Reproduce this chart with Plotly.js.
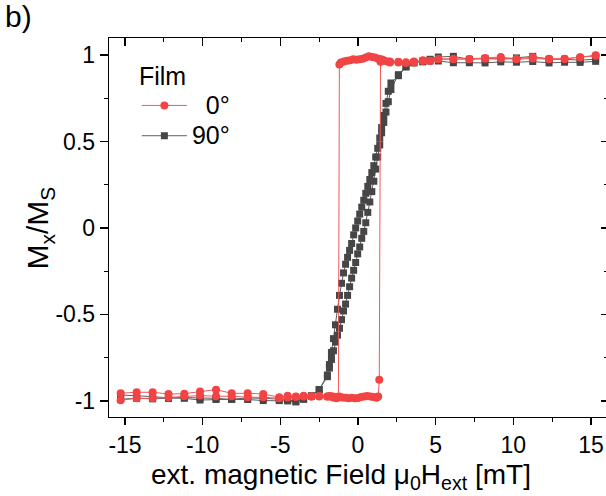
<!DOCTYPE html>
<html>
<head>
<meta charset="utf-8">
<script src="https://cdn.plot.ly/plotly-3.0.1.min.js"></script>
<style>html,body{margin:0;padding:0;overflow:hidden;background:#fff;}</style>
</head>
<body>
<div id="chart"></div>
<script>
// ---- data (field in mT, normalized magnetization) ----
const fieldRedDown = [15.3, 14.3, 13.3, 12.3, 11.25, 10.2, 9.19, 8.18, 7.17, 6.14, 5.17, 4.64, 4.17, 3.6, 3.09, 2.6, 2.06, 1.9, 1.7, 1.5, 1.3, 1.1, 0.9, 0.7, 0.5, 0.3, 0.1, -0.1, -0.3, -0.5, -0.7, -0.9, -1.1, -1.2, -1.26, -1.4, -1.6, -1.8, -1.98, -2.5, -3.0, -3.5, -4.0, -4.53, -5.07, -6.1, -7.1, -8.13, -9.14, -10.17, -11.18, -12.2, -13.22, -14.25, -15.28];
const magRedDown = [0.998, 0.986, 0.977, 0.978, 0.988, 0.977, 0.988, 0.983, 0.977, 0.977, 0.977, 0.967, 0.969, 0.957, 0.954, 0.957, 0.957, 0.962, 0.966, 0.975, 0.978, 0.985, 0.988, 0.992, 0.985, 0.978, 0.975, 0.972, 0.975, 0.97, 0.966, 0.962, 0.957, 0.945, -0.98, -0.985, -0.98, -0.975, -0.975, -0.972, -0.975, -0.97, -0.975, -0.97, -0.979, -0.96, -0.956, -0.956, -0.935, -0.946, -0.958, -0.96, -0.95, -0.95, -0.956];
const fieldRedUp = [-15.28, -14.25, -13.22, -12.2, -11.18, -10.17, -9.14, -8.13, -7.1, -6.1, -5.07, -4.53, -4.0, -3.5, -3.0, -2.5, -1.98, -1.8, -1.6, -1.4, -1.2, -1.0, -0.8, -0.6, -0.4, -0.2, 0.0, 0.2, 0.4, 0.6, 0.8, 1.0, 1.2, 1.3, 1.37, 1.45, 1.63, 2.06, 2.6, 3.09, 3.6, 4.17, 4.64, 5.17, 6.14, 7.17, 8.18, 9.19, 10.2, 11.25, 12.3, 13.3, 14.3, 15.3];
const magRedUp = [-0.996, -0.985, -0.985, -0.979, -0.973, -0.969, -0.973, -0.973, -0.979, -0.979, -0.985, -0.98, -0.978, -0.975, -0.975, -0.975, -0.975, -0.972, -0.975, -0.978, -0.975, -0.98, -0.982, -0.985, -0.982, -0.985, -0.983, -0.978, -0.975, -0.972, -0.975, -0.978, -0.982, -0.975, -0.877, 0.96, 0.969, 0.962, 0.96, 0.958, 0.962, 0.965, 0.965, 0.975, 0.975, 0.975, 0.978, 0.98, 0.975, 0.98, 0.975, 0.978, 0.985, 0.995];

const fieldGreyDown = [15.3, 14.3, 13.3, 12.3, 11.25, 10.2, 9.19, 8.18, 7.17, 6.14, 5.17, 4.64, 4.17, 3.6, 3.09, 2.6, 2.12, 1.95, 1.80, 1.66, 1.52, 1.40, 1.27, 1.14, 1.02, 0.89, 0.76, 0.63, 0.50, 0.37, 0.24, 0.11, -0.02, -0.15, -0.28, -0.41, -0.54, -0.67, -0.80, -0.93, -1.06, -1.19, -1.32, -1.45, -1.58, -1.71, -1.84, -1.97, -2.5, -3.0, -3.5, -4.0, -4.53, -5.07, -6.1, -7.1, -8.13, -9.14, -10.17, -11.18, -12.2, -13.22, -14.25, -15.28];
const magGreyDown = [0.975, 0.97, 0.975, 0.975, 0.992, 0.983, 0.975, 0.98, 0.975, 0.992, 0.988, 0.975, 0.965, 0.955, 0.93, 0.88, 0.838, 0.79, 0.72, 0.65, 0.58, 0.52, 0.46, 0.41, 0.36, 0.32, 0.28, 0.24, 0.20, 0.16, 0.12, 0.08, 0.04, 0.00, -0.04, -0.09, -0.13, -0.17, -0.21, -0.26, -0.32, -0.39, -0.47, -0.56, -0.64, -0.72, -0.79, -0.85, -0.935, -0.97, -0.99, -1.0, -0.995, -0.99, -0.985, -0.983, -0.99, -0.992, -0.995, -0.985, -0.983, -0.975, -0.97, -0.966];
const fieldGreyUp = [-15.28, -14.25, -13.22, -12.2, -11.18, -10.17, -9.14, -8.13, -7.1, -6.1, -5.07, -4.53, -4.0, -3.5, -3.0, -2.5, -1.97, -1.84, -1.71, -1.58, -1.45, -1.32, -1.19, -1.06, -0.93, -0.80, -0.67, -0.54, -0.41, -0.28, -0.15, -0.02, 0.11, 0.24, 0.37, 0.50, 0.63, 0.76, 0.89, 1.02, 1.14, 1.27, 1.40, 1.52, 1.66, 1.80, 1.95, 2.12, 2.6, 3.09, 3.6, 4.17, 4.64, 5.17, 6.14, 7.17, 8.18, 9.19, 10.2, 11.25, 12.3, 13.3, 14.3, 15.3];
const magGreyUp = [-0.99, -0.985, -0.988, -0.985, -0.98, -0.983, -0.985, -0.992, -0.992, -0.998, -0.998, -1.0, -1.006, -0.99, -0.973, -0.935, -0.86, -0.81, -0.76, -0.71, -0.66, -0.62, -0.58, -0.53, -0.48, -0.44, -0.39, -0.34, -0.29, -0.245, -0.20, -0.15, -0.11, -0.06, -0.02, 0.03, 0.09, 0.15, 0.21, 0.27, 0.34, 0.41, 0.48, 0.55, 0.61, 0.67, 0.73, 0.80, 0.886, 0.934, 0.955, 0.96, 0.965, 0.965, 0.955, 0.955, 0.954, 0.96, 0.958, 0.962, 0.954, 0.958, 0.957, 0.963];

const seriesNames = ['\u20070°', '90°'];
const legendTitle = 'Film';
const xTickVals = [-15, -10, -5, 0, 5, 10, 15];
const xTickText = ['-15', '-10', '-5', '0', '5', '10', '15'];
const xMinorVals = [-12.5, -7.5, -2.5, 2.5, 7.5, 12.5];
const yTickVals = [-1, -0.5, 0, 0.5, 1];
const yTickText = ['-1', '-0.5', '0', '0.5', '1'];
const yMinorVals = [-0.75, -0.25, 0.25, 0.75];
const xRange = [-16.03, 16.03];
const yRange = [-1.093, 1.098];

const FONT = 'Liberation Sans, Arial, sans-serif';
const big = s => '<span style="font-size:25px">' + s + '</span>';

const fieldGrey = fieldGreyDown.concat(fieldGreyUp);
const magGrey = magGreyDown.concat(magGreyUp);
const fieldRed = fieldRedDown.concat(fieldRedUp);
const magRed = magRedDown.concat(magRedUp);

const traces = [
  {
    x: fieldGrey, y: magGrey, name: big(seriesNames[1]),
    mode: 'lines+markers',
    line: {color: '#5e5e5e', width: 1},
    marker: {symbol: 'square', size: 7, color: '#464646'},
    type: 'scatter'
  },
  {
    x: fieldRed, y: magRed, name: big(seriesNames[0]),
    mode: 'lines+markers',
    line: {color: '#f05858', width: 1},
    marker: {symbol: 'circle', size: 8, color: '#f24444'},
    type: 'scatter'
  },
  // carrier for the mirrored (top / right) frame axes, not visible
  {
    x: fieldGrey, y: magGrey, xaxis: 'x2', yaxis: 'y2',
    mode: 'lines', opacity: 0, showlegend: false, hoverinfo: 'skip',
    line: {color: '#000', width: 1}, type: 'scatter'
  }
];

const axCommon = {
  showgrid: false, zeroline: false, showline: true,
  linecolor: '#000', linewidth: 1.3, tickcolor: '#000', tickwidth: 1.3
};

const layout = {
  width: 607, height: 496,
  margin: {l: 109, r: 0, t: 38, b: 79, pad: 0},
  paper_bgcolor: '#fff', plot_bgcolor: '#fff',
  font: {family: FONT, color: '#000'},
  showlegend: true,
  legend: {
    x: 0.056, y: 0.961, xanchor: 'left', yanchor: 'top',
    traceorder: 'reversed',
    bgcolor: 'rgba(0,0,0,0)',
    font: {family: FONT, size: 21, color: '#000'},
    title: {text: legendTitle, font: {family: FONT, size: 25, color: '#000'}},
    itemwidth: 45
  },
  xaxis: Object.assign({}, axCommon, {
    range: xRange, tickmode: 'array', tickvals: xTickVals, ticktext: xTickText,
    ticks: 'outside', ticklen: 7,
    tickfont: {family: FONT, size: 23, color: '#000'},
    minor: {tickmode: 'array', tickvals: xMinorVals, ticks: 'outside', ticklen: 4, tickwidth: 1.3, tickcolor: '#000', showgrid: false}
  }),
  xaxis2: Object.assign({}, axCommon, {
    overlaying: 'x', side: 'top', anchor: 'y',
    range: xRange, tickmode: 'array', tickvals: xTickVals,
    ticks: 'inside', ticklen: 8, showticklabels: false,
    minor: {tickmode: 'array', tickvals: xMinorVals, ticks: 'inside', ticklen: 4, tickwidth: 1.3, tickcolor: '#000', showgrid: false}
  }),
  yaxis: Object.assign({}, axCommon, {
    range: yRange, tickmode: 'array', tickvals: yTickVals, ticktext: yTickText,
    ticks: 'outside', ticklen: 8,
    tickfont: {family: FONT, size: 23, color: '#000'},
    minor: {tickmode: 'array', tickvals: yMinorVals, ticks: 'outside', ticklen: 4, tickwidth: 1.3, tickcolor: '#000', showgrid: false}
  }),
  yaxis2: Object.assign({}, axCommon, {
    overlaying: 'y', side: 'right', anchor: 'x',
    range: yRange, tickmode: 'array', tickvals: yTickVals,
    ticks: 'inside', ticklen: 6, showticklabels: false,
    minor: {tickmode: 'array', tickvals: yMinorVals, ticks: 'inside', ticklen: 3, tickwidth: 1.3, tickcolor: '#000', showgrid: false}
  }),
  annotations: [
    {text: 'b)', xref: 'paper', yref: 'paper', x: -0.213, y: 1.058, xanchor: 'left', yanchor: 'middle',
     showarrow: false, font: {family: FONT, size: 30, color: '#000'}},
    {text: 'ext. magnetic Field \u03bc<sub>0</sub>H<sub>ext</sub> [mT]', xref: 'paper', yref: 'paper',
     x: 0.466, y: -0.158, xanchor: 'center', yanchor: 'middle', showarrow: false,
     font: {family: FONT, size: 28, color: '#000'}},
    {text: 'M<sub>x</sub>/M<sub>S</sub>', xref: 'paper', yref: 'paper', textangle: -90,
     x: -0.1386, y: 0.5, xanchor: 'center', yanchor: 'middle', showarrow: false,
     font: {family: FONT, size: 30, color: '#000'}}
  ]
};

Plotly.newPlot('chart', traces, layout, {displayModeBar: false, staticPlot: true});
</script>
</body>
</html>
